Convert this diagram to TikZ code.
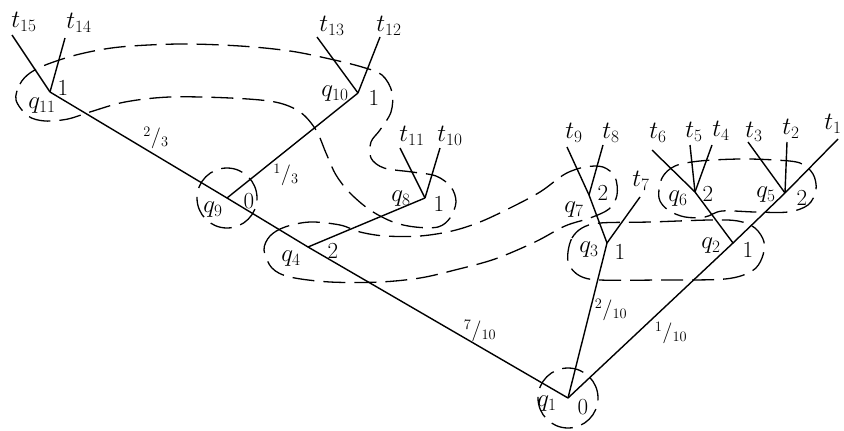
\documentclass[tikz,border=0pt]{standalone}
\usetikzlibrary{calc}

\begin{document}
\begin{tikzpicture}[x=1pt,y=-1pt,line width=1.4pt,
  every node/.style={inner sep=0pt,font=\fontsize{24}{26}\selectfont},
  player/.style={font=\fontsize{23}{25}\selectfont},
  infoset/.style={line width=1.3pt,dash pattern=on 22pt off 9pt},
  prob/.style={font=\fontsize{20}{22}\selectfont}]
\useasboundingbox (0,0) rectangle (844,431);

% decision points
\coordinate (q1) at (568,398);
\coordinate (q2) at (733,243);
\coordinate (q3) at (607,243);
\coordinate (q4) at (308,247);
\coordinate (q5) at (785,193);
\coordinate (q6) at (695,192);
\coordinate (q7) at (589,195);
\coordinate (q8) at (425,198);
\coordinate (q9) at (227,198);
\coordinate (q10) at (358,93);
\coordinate (q11) at (50,92);

% ends of the plays
\foreach \i/\x/\y in {1/838/139,2/787/142,3/748/142,4/712/145,5/690/145,6/652/150,
    7/640/197,8/603/145,9/567/147,10/440/148,11/400/148,12/380/37,13/317/37,
    14/65/38,15/12/35}
  \coordinate (e\i) at (\x,\y);

% moves
\draw (q1) -- (q4) -- (q9) -- (q11);
\draw (q9) -- (q10);
\draw (q4) -- (q8);
\draw (q1) -- (q3) -- (q7);
\draw (q1) -- (q2) -- (q6);
\draw (q2) -- (q5);
\foreach \a/\b in {q11/e15,q11/e14,q10/e13,q10/e12,q8/e11,q8/e10,q7/e9,q7/e8,
    q3/e7,q6/e6,q6/e5,q6/e4,q5/e3,q5/e2,q5/e1}
  \draw (\a) -- (\b);

% outcomes
\foreach \i/\x/\y in {1/833/124,2/791/129,3/754/132,4/721/131,5/694/132,6/658/133,
    7/641/181,8/611/133,9/574/133,10/450/136,11/412/136,12/389/26,13/332/26,
    14/79/23,15/24/22}
  \node (t\i) at (\x,\y) {$t_{\i}$};

% names of the points and players
\node (lq1) at (547,404) {$q_1$};   \node[player] (p1) at (583,407) {0};
\node (lq2) at (711,246) {$q_2$};   \node[player] (p2) at (748,250) {1};
\node (lq3) at (589,250) {$q_3$};   \node[player] (p3) at (620,252) {1};
\node (lq4) at (291,259) {$q_4$};   \node[player] (p4) at (333,251) {2};
\node (lq5) at (766,195) {$q_5$};   \node[player] (p5) at (802,198) {2};
\node (lq6) at (678,199) {$q_6$};   \node[player] (p6) at (708,194) {2};
\node (lq7) at (574,210) {$q_7$};   \node[player] (p7) at (603,193) {2};
\node (lq8) at (401,199) {$q_8$};   \node[player] (p8) at (439,204) {1};
\node (lq9) at (213,210) {$q_9$};   \node[player] (p9) at (249,201) {0};
\node (lq10) at (335,94) {$q_{10}$}; \node[player] (p10) at (374,98) {1};
\node (lq11) at (42,106) {$q_{11}$}; \node[player] (p11) at (63,88) {1};

% chance moves
\node[prob] (f23) at (156,138) {${}^2/{}_3$};
\node[prob] (f13) at (286,175) {${}^1/{}_3$};
\node[prob] (f710) at (480,331) {${}^7/{}_{10}$};
\node[prob] (f210) at (611,310) {${}^2/{}_{10}$};
\node[prob] (f110) at (671,333) {${}^1/{}_{10}$};

% information sets
\draw[infoset] (q1) circle [radius=30pt];
\draw[infoset] (q9) circle [radius=30pt];
\draw[infoset] plot[smooth cycle,tension=0.55] coordinates {(16,100) (20,84) (30,73)
  (48,64) (80,54) (120,47) (180,44) (240,46) (290,51) (330,59) (362,67) (382,75)
  (392,92) (391,112) (380,130) (371,142) (371,158) (384,168) (412,172) (436,176)
  (451,187) (456,202) (450,218) (438,227) (415,227) (393,222) (370,210) (350,193)
  (336,175) (326,153) (316,130) (300,112) (275,102) (230,98) (170,97) (125,102)
  (90,112) (68,119) (45,121) (28,116)};
\draw[infoset] plot[smooth cycle,tension=0.55] coordinates {(264,250) (270,236)
  (285,227) (310,222) (340,225) (360,232) (385,236) (420,236) (452,231) (480,222)
  (510,208) (540,192) (565,174) (585,167) (603,167) (615,177) (617,195) (609,209)
  (590,218) (565,226) (535,242) (495,259) (455,270) (420,278) (380,282) (330,282)
  (290,277) (272,268)};
\draw[infoset] plot[smooth cycle,tension=0.55] coordinates {(568,252) (572,238)
  (582,228) (600,223) (650,222) (710,220) (738,221) (755,228) (764,242) (762,258)
  (752,271) (725,279) (660,280) (600,280) (580,276) (569,265)};
\draw[infoset] plot[smooth cycle,tension=0.55] coordinates {(659,198) (662,178)
  (675,166) (700,161) (740,159) (775,160) (800,163) (813,174) (816,190) (808,205)
  (788,212) (755,212) (722,211) (705,217) (685,217) (668,210)};
\end{tikzpicture}
\end{document}
